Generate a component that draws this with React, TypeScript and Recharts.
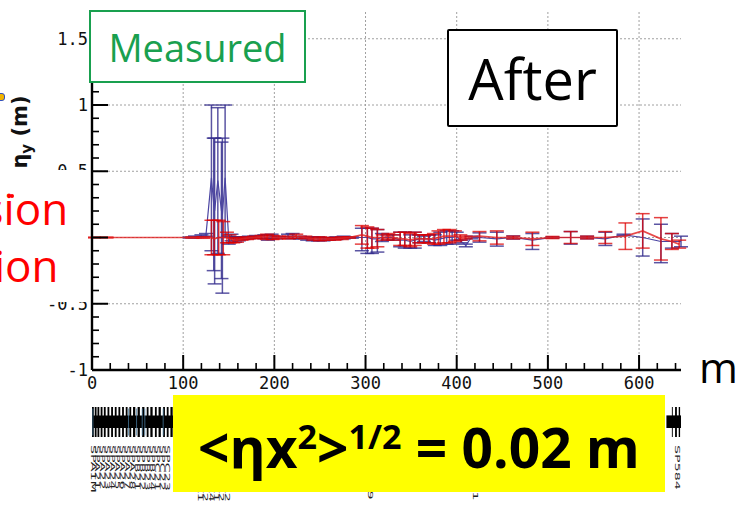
import React from 'react';
import { ComposedChart, Line, ErrorBar, XAxis, YAxis, ReferenceLine, ReferenceArea } from 'recharts';

// ---- axes ----
const X_DOMAIN: [number, number] = [0, 646];
const Y_DOMAIN: [number, number] = [-1, 1.702];
const xMajorTicks = [0, 100, 200, 300, 400, 500, 600];
const xMinorTicks = [20, 40, 60, 80, 120, 140, 160, 180, 220, 240, 260, 280, 320, 340, 360, 380, 420, 440, 460, 480, 520, 540, 560, 580, 620, 640];
const yMajorTicks = [-1, -0.5, 0, 0.5, 1, 1.5];
const yTickLabels = ['-1', '-0.5', '0', '0.5', '1', '1.5'];
const yMinorTicks = [-0.9, -0.8, -0.7, -0.6, -0.4, -0.3, -0.2, -0.1, 0.1, 0.2, 0.3, 0.4, 0.6, 0.7, 0.8, 0.9, 1.1, 1.2, 1.3, 1.4, 1.6];
const xGrid = [100, 200, 300, 400, 500, 600];
const yGrid = [-0.5, 0, 0.5, 1, 1.5];

// ---- blue series (measured, before) ----
const blueS = [107, 113, 120, 125, 131, 133.5, 134.5, 138, 142, 143, 146, 150, 153, 157, 161, 166, 172, 180, 189, 193, 197, 202, 215, 220, 228, 236, 242, 248, 254, 260, 268, 276, 285, 296, 302, 307, 313, 318, 324, 330, 338, 343, 349, 354, 359, 364, 370, 376, 382, 389, 395, 400, 405, 410, 416, 425, 444, 462, 483, 505, 525, 543, 563, 583, 604, 624, 636, 646];
const blueY = [0, 0.005, 0.01, 0.02, 0.45, 0.25, 0.2, 0.43, 0.2, 0.17, 0.45, -0.02, 0, -0.015, -0.01, -0.005, 0, 0.005, 0.005, 0, 0.01, 0, 0.01, 0.01, 0, -0.01, -0.01, -0.01, -0.015, -0.01, -0.005, 0, 0, 0, 0, -0.01, -0.01, 0, 0, 0, -0.02, -0.02, -0.03, -0.02, -0.01, -0.01, -0.01, -0.02, -0.01, 0, 0, 0.01, -0.03, -0.06, 0, 0, -0.01, 0, -0.02, 0, 0, 0, -0.01, 0.02, 0, -0.03, -0.03, -0.03];
const blueLo = [0.004, 0.006, 0.01, 0.01, 0.55, 0.5, 0.55, 0.55, 0.51, 0.59, 0.45, 0.03, 0.025, 0.02, 0.015, 0.01, 0.01, 0.01, 0.015, 0.02, 0.015, 0.01, 0.015, 0.02, 0.01, 0.01, 0.015, 0.015, 0.01, 0.01, 0.01, 0.01, 0.005, 0.1, 0.12, 0.11, 0.1, 0.03, 0.02, 0.02, 0.05, 0.06, 0.05, 0.06, 0.03, 0.02, 0.03, 0.04, 0.05, 0.05, 0.05, 0.03, 0.01, 0.01, 0.01, 0.035, 0.055, 0.012, 0.07, 0.005, 0.05, 0.01, 0.05, 0.005, 0.14, 0.16, 0.05, 0.04];
const blueHi = [0.004, 0.006, 0.01, 0.01, 0.55, 0.5, 0.55, 0.55, 0.52, 0.58, 0.55, 0.03, 0.025, 0.02, 0.015, 0.01, 0.01, 0.01, 0.015, 0.02, 0.015, 0.01, 0.015, 0.02, 0.01, 0.01, 0.015, 0.015, 0.01, 0.01, 0.01, 0.01, 0.005, 0.07, 0.07, 0.08, 0.07, 0.03, 0.02, 0.02, 0.06, 0.06, 0.05, 0.06, 0.03, 0.02, 0.03, 0.04, 0.05, 0.05, 0.05, 0.03, 0.01, 0.01, 0.01, 0.035, 0.05, 0.012, 0.05, 0.005, 0.045, 0.01, 0.05, 0.005, 0.14, 0.13, 0.06, 0.04];

// ---- red series (measured, after) ----
const redS = [2, 16, 110, 122, 131, 134, 139, 144, 148, 151, 155, 159, 164, 170, 178, 186, 192, 198, 205, 216, 224, 234, 243, 250, 258, 266, 274, 282, 296, 302, 307, 313, 319, 325, 331, 338, 343, 349, 354, 359, 364, 369, 375, 380, 386, 392, 398, 404, 410, 425, 444, 462, 483, 505, 525, 543, 563, 585, 604, 624, 636, 644];
const redY = [0, 0, 0, 0, 0, -0.01, 0, 0, 0, -0.01, -0.02, -0.02, -0.01, -0.005, 0, 0.005, 0.005, 0, 0, 0, 0.01, 0, -0.01, -0.01, -0.01, -0.01, -0.005, 0, 0.02, 0.01, 0, 0, 0, 0.01, 0, -0.01, -0.01, -0.02, -0.01, -0.01, -0.01, -0.01, -0.01, 0, 0.01, 0.01, 0.01, 0, 0, 0.01, 0, 0, -0.01, 0, 0, 0, 0, 0.01, 0.05, -0.01, -0.03, -0.05];
const redLo = [0.003, 0.003, 0.004, 0.006, 0.13, 0.12, 0.13, 0.13, 0.04, 0.03, 0.02, 0.015, 0.01, 0.01, 0.01, 0.01, 0.02, 0.015, 0.01, 0.01, 0.015, 0.01, 0.01, 0.015, 0.01, 0.01, 0.01, 0.005, 0.07, 0.09, 0.08, 0.07, 0.02, 0.02, 0.02, 0.05, 0.05, 0.05, 0.05, 0.03, 0.03, 0.03, 0.04, 0.05, 0.05, 0.05, 0.04, 0.02, 0.01, 0.035, 0.05, 0.01, 0.05, 0.008, 0.045, 0.01, 0.045, 0.1, 0.13, 0.16, 0.06, 0.03];
const redHi = [0.003, 0.003, 0.004, 0.006, 0.13, 0.14, 0.13, 0.12, 0.04, 0.03, 0.02, 0.015, 0.01, 0.01, 0.01, 0.01, 0.02, 0.015, 0.01, 0.01, 0.015, 0.01, 0.01, 0.015, 0.01, 0.01, 0.01, 0.005, 0.07, 0.07, 0.07, 0.06, 0.02, 0.02, 0.02, 0.05, 0.05, 0.05, 0.05, 0.03, 0.03, 0.03, 0.04, 0.05, 0.05, 0.05, 0.04, 0.02, 0.01, 0.035, 0.05, 0.01, 0.05, 0.008, 0.045, 0.01, 0.045, 0.1, 0.13, 0.16, 0.06, 0.03];

// ---- beamline elements strip ----
const magStart = [0, 3, 6, 9.5, 13, 17, 21, 25, 29, 33, 37, 41, 45, 50, 55, 60, 64, 69, 73, 78, 82, 86, 636, 639.5, 643.5];
const magEnd = [2, 5, 8, 11.5, 15, 19, 23, 27, 31, 35, 39, 43, 47.5, 52.5, 57.5, 62, 66.5, 71, 75.5, 80, 84, 88.5, 637, 641.5, 645];
const driftStart = [0, 630];
const driftEnd = [89, 646];
const bpmPos = [1, 40, 49, 55, 58, 78];
const elemLabelPos = [1, 6, 11, 16.5, 22, 27.5, 33, 38.5, 44, 49.5, 55, 60.5, 66, 71.5, 77, 82.5, 118, 124, 130, 136, 142, 148, 305, 420, 642];
const elemLabelNames = ['SPA1M', 'SPA21', 'SPA22', 'SPA23', 'SPA24', 'SPA25', 'SPA26', 'SPA27', 'SPA28', 'SPB21', 'SPB22', 'SPB23', 'SPB24', 'SPC21', 'SPC22', 'SPC23', 'SPQ7A1', 'SPQ7A2', 'SPQ7A4', 'SPQ7A1', 'SPQ7A2', 'SPQ7A2', 'SPV349', 'SPH411', 'SP584'];

const blueData = blueS.map((s, i) => ({ s, y: blueY[i], err: [blueLo[i], blueHi[i]] }));
const redData = redS.map((s, i) => ({ s, y: redY[i], err: [redLo[i], redHi[i]] }));
const stripData = elemLabelPos.map((s) => ({ s, v: 0.5 }));

const xAllTicks = [...xMajorTicks, ...xMinorTicks].sort((a, b) => a - b);
const yAllTicks = [...yMajorTicks, ...yMinorTicks].sort((a, b) => a - b);
const near = (arr: number[], v: number) => arr.findIndex((m) => Math.abs(m - v) < 1e-9);

const MONO = 'DejaVu Sans Mono';

const LeftTick = (p: any) => {
  const v = p.payload.value;
  const idx = near(yMajorTicks, v);
  const major = idx >= 0;
  const ax = p.x + 4;
  return (
    <g>
      <line x1={ax} x2={ax + (major ? 16 : 7)} y1={p.y} y2={p.y} stroke="#000" strokeWidth={major ? 2 : 1.6} />
      {major && (
        <text x={p.x} y={p.y} dy={6} textAnchor="end" fontFamily={MONO} fontSize={17} fill="#111">
          {yTickLabels[idx]}
        </text>
      )}
    </g>
  );
};

const RightTick = (p: any) => {
  const major = near(yMajorTicks, p.payload.value) >= 0;
  return <line x1={p.x} x2={p.x - (major ? 15 : 5)} y1={p.y} y2={p.y} stroke="#000" strokeWidth={major ? 2 : 1.6} />;
};

const BottomTick = (p: any) => {
  const v = p.payload.value;
  const major = near(xMajorTicks, v) >= 0;
  const ay = p.y - 6;
  return (
    <g>
      <line x1={p.x} x2={p.x} y1={ay} y2={ay - (major ? 15 : 7)} stroke="#000" strokeWidth={major ? 2 : 1.6} />
      {major && (
        <text x={p.x} y={p.y} dy="0.75em" textAnchor="middle" fontFamily={MONO} fontSize={17} fill="#111">
          {v}
        </text>
      )}
    </g>
  );
};

const TopTick = (p: any) => {
  const major = near(xMajorTicks, p.payload.value) >= 0;
  return <line x1={p.x} x2={p.x} y1={p.y} y2={p.y + (major ? 13 : 5)} stroke="#000" strokeWidth={major ? 2 : 1.6} />;
};

const ElemTick = (p: any) => (
  <text
    transform={`translate(${p.x - 2},${p.y}) rotate(90) scale(2.2,1)`}
    fontSize={6.5}
    fontFamily="DejaVu Sans"
    fill="#222"
  >
    {elemLabelNames[p.index]}
  </text>
);

const axisStyle = { stroke: '#000', strokeWidth: 2.4 };

export default function App() {
  return (
    <div style={{ position: 'fixed', left: 0, top: 0, width: 750, height: 505, background: '#fff', overflow: 'hidden' }}>
      <div style={{ position: 'absolute', left: 0, top: 0 }}>
        <ComposedChart width={750} height={505} margin={{ top: 12, right: 69, bottom: 105, left: 0 }}>
          <XAxis xAxisId="b" type="number" dataKey="s" domain={X_DOMAIN} allowDataOverflow ticks={xAllTicks} interval={0}
            tick={BottomTick} tickLine={false} tickSize={0} tickMargin={6} axisLine={axisStyle} height={30} />
          <XAxis xAxisId="t" orientation="top" type="number" dataKey="s" domain={X_DOMAIN} allowDataOverflow ticks={xAllTicks} interval={0}
            tick={TopTick} tickLine={false} tickSize={0} tickMargin={0} axisLine={axisStyle} height={0} />
          <YAxis yAxisId="l" type="number" domain={Y_DOMAIN} allowDataOverflow ticks={yAllTicks} interval={0}
            tick={LeftTick} tickLine={false} tickSize={0} tickMargin={4} axisLine={axisStyle} width={92} />
          <YAxis yAxisId="r" orientation="right" type="number" domain={Y_DOMAIN} allowDataOverflow ticks={yAllTicks} interval={0}
            tick={RightTick} tickLine={false} tickSize={0} tickMargin={0} axisLine={axisStyle} width={0} />
          {xGrid.map((v) => (
            <ReferenceLine key={'gx' + v} xAxisId="b" yAxisId="l" x={v} stroke="#a0a0a0" strokeDasharray="2 2" />
          ))}
          {yGrid.map((v) => (
            <ReferenceLine key={'gy' + v} xAxisId="b" yAxisId="l" y={v} stroke="#a0a0a0" strokeDasharray="2 2" />
          ))}
          <Line xAxisId="t" yAxisId="r" data={blueData} dataKey="y" stroke="none" dot={false} isAnimationActive={false} />
          <Line xAxisId="b" yAxisId="l" data={blueData} dataKey="y" stroke="#4b45a3" strokeWidth={1.2} dot={false} isAnimationActive={false}>
            <ErrorBar dataKey="err" width={7} stroke="rgba(50,42,140,0.8)" strokeWidth={1.5} direction="y" isAnimationActive={false} />
          </Line>
          <Line xAxisId="b" yAxisId="l" data={redData} dataKey="y" stroke="rgba(225,30,30,0.8)" strokeWidth={1.7} dot={false} isAnimationActive={false}>
            <ErrorBar dataKey="err" width={7} stroke="rgba(220,0,0,0.75)" strokeWidth={1.5} direction="y" isAnimationActive={false} />
          </Line>
        </ComposedChart>
      </div>

      <div style={{ position: 'absolute', left: 0, top: 400 }}>
        <ComposedChart width={750} height={105} data={stripData} margin={{ top: 7, right: 69, bottom: 8, left: 92 }}>
          <XAxis type="number" dataKey="s" domain={X_DOMAIN} allowDataOverflow ticks={elemLabelPos} interval={0}
            tick={ElemTick} tickLine={false} tickSize={0} tickMargin={8} axisLine={false} height={60} />
          <YAxis type="number" domain={[0, 1]} hide />
          {driftStart.map((s, i) => (
            <ReferenceArea key={'d' + i} x1={s} x2={driftEnd[i]} y1={0.3} y2={0.72} fill="#000" fillOpacity={1} stroke="none" />
          ))}
          {magStart.map((s, i) => (
            <ReferenceArea key={'m' + i} x1={s} x2={magEnd[i]} y1={0} y2={1} fill="#000" fillOpacity={1} stroke="none" />
          ))}
          {bpmPos.map((s, i) => (
            <ReferenceArea key={'b' + i} x1={s - 0.4} x2={s + 0.4} y1={0.05} y2={0.95} fill="#4a7fa5" fillOpacity={1} stroke="none" />
          ))}
          <Line dataKey="v" stroke="none" dot={false} isAnimationActive={false} />
        </ComposedChart>
      </div>

      {/* y-axis title */}
      <div style={{ position: 'absolute', left: 20, top: 132, transform: 'translate(-50%,-50%) rotate(-90deg)', fontFamily: 'DejaVu Sans', fontWeight: 700, fontSize: 21, whiteSpace: 'nowrap', lineHeight: 1, color: '#111' }}>
        η<sub style={{ fontSize: '0.72em', lineHeight: 0 }}>y</sub> (m)
      </div>

      {/* red side text with white backing */}
      <div style={{ position: 'absolute', left: 0, top: 170, width: 88, height: 132, background: '#fff', overflow: 'hidden' }}>
        <div style={{ position: 'absolute', left: -151, top: 10, width: 400, fontFamily: 'Open Sans', fontSize: 44, lineHeight: '57px', color: '#ff0000', whiteSpace: 'nowrap' }}>
          <div>Dispersion</div>
          <div>correction</div>
        </div>
      </div>
      <div style={{ position: 'absolute', left: 10, top: 194, width: 4, height: 4, borderRadius: 2, background: '#ff0000' }} />
      <div style={{ position: 'absolute', left: -3, top: 93, width: 6, height: 6, borderRadius: 3, background: '#f2b400', border: '1px solid #3050c0' }} />

      {/* Measured box */}
      <div style={{ position: 'absolute', left: 89, top: 10, width: 217, height: 73, boxSizing: 'border-box', border: '2px solid #19a04f', background: '#fff', display: 'flex', alignItems: 'center', justifyContent: 'center', fontFamily: 'Open Sans', fontSize: 38, color: '#19a04f' }}>
        Measured
      </div>

      {/* After box */}
      <div style={{ position: 'absolute', left: 447, top: 29, width: 171, height: 98, boxSizing: 'border-box', border: '2px solid #000', borderRadius: 2, background: '#fff', display: 'flex', alignItems: 'center', justifyContent: 'center', fontFamily: 'Open Sans', fontSize: 56, color: '#000' }}>
        After
      </div>

      {/* unit m */}
      <div style={{ position: 'absolute', left: 699, top: 346, fontFamily: 'Open Sans', fontSize: 42, lineHeight: 1, color: '#000' }}>m</div>

      {/* yellow result box */}
      <div style={{ position: 'absolute', left: 173, top: 395, width: 492, height: 97, background: '#ffff00', display: 'flex', alignItems: 'center', justifyContent: 'center', fontFamily: 'Open Sans', fontWeight: 700, fontSize: 55, color: '#000', whiteSpace: 'nowrap', lineHeight: 1 }}>
        <span style={{ marginTop: 6 }}>
          &lt;ηx<sup style={{ fontSize: '0.62em', lineHeight: 0 }}>2</sup>&gt;<sup style={{ fontSize: '0.62em', lineHeight: 0 }}>1/2</sup> = 0.02 m
        </span>
      </div>
    </div>
  );
}
